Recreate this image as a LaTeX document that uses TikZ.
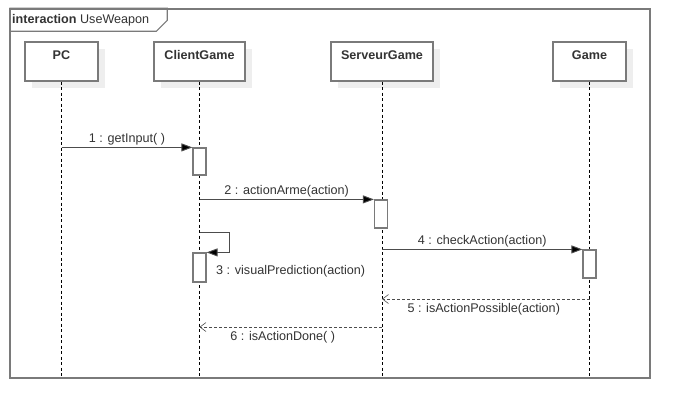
\documentclass[tikz,border=0pt]{standalone}
\usepackage{fontspec}
\setmainfont{Liberation Sans}
\usetikzlibrary{arrows.meta,shadows}
\definecolor{linegray}{HTML}{7A7A7A}
\definecolor{textgray}{HTML}{333333}
\definecolor{shadowgray}{HTML}{EEEEEE}

\begin{document}
\begin{tikzpicture}[x=1pt, y=-1pt, font=\fontsize{12.6}{15}\selectfont, text=textgray,
	head/.style={draw=linegray, line width=1.2pt, fill=white, minimum width=#1, inner ysep=0pt, text height=17pt, text depth=22pt, font=\fontsize{12.6}{15}\selectfont\bfseries,
		drop shadow={shadow xshift=7pt, shadow yshift=-7pt, fill=shadowgray, opacity=1}},
	lifeline/.style={dashed, dash pattern=on 3pt off 2.5pt, black, line width=0.8pt},
	activation/.style={draw=linegray, line width=1.2pt, fill=white, minimum width=13pt, minimum height=#1, inner sep=0pt},
	msg/.style={draw=black!70, line width=0.9pt, -{Triangle[length=11pt, width=8pt, fill=black]}},
	reply/.style={draw=black!70, line width=0.9pt, dashed, dash pattern=on 3pt off 2pt, -{Straight Barb[length=6pt, width=9pt, line width=0.6pt]}},
	msglabel/.style={inner sep=1.5pt},
	replylabel/.style={inner sep=4pt}]

	\useasboundingbox (0,0) rectangle (690,418);

	% frame and title tab
	\node[draw=linegray, line width=1.4pt, minimum width=640pt, minimum height=369pt, inner sep=0pt] (frame) at (330,193.5) {};
	\node[anchor=west, inner sep=0pt] (title) at (12,20.5) {\textbf{interaction} UseWeapon};
	\draw[linegray, line width=1.2pt] (frame.north west) -- ++(158,0) -- ++(0,12) -- ++(-11,11) -- ++(-147,0);

	% lifeline heads
	\node[head=73pt] (pc) at (61.5,61.5) {PC};
	\node[head=91pt] (cg) at (199.5,61.5) {ClientGame};
	\node[head=102pt] (sg) at (382,61.5) {ServeurGame};
	\node[head=73pt] (game) at (589.5,61.5) {Game};

	\coordinate (pcEnd) at (61.5,378);
	\coordinate (cgEnd) at (199.5,378);
	\coordinate (sgEnd) at (382,378);
	\coordinate (gameEnd) at (589.5,378);

	\draw[lifeline] (pc.south) -- (pcEnd);
	\draw[lifeline] (cg.south) -- (cgEnd);
	\draw[lifeline] (sg.south) -- (sgEnd);
	\draw[lifeline] (game.south) -- (gameEnd);

	% activations
	\node[activation=27pt] (a1) at (199.5,161.5) {};
	\node[activation=28pt] (a2) at (381,214) {};
	\node[activation=29pt] (a3) at (199.5,267.5) {};
	\node[activation=28pt] (a4) at (589.5,264) {};

	\coordinate (r5) at (589.5,299);
	\coordinate (r6) at (382,327);

	% messages
	\draw[msg] (pc |- a1.north west) -- node[msglabel, above] {1 : getInput( )} (a1.north west);
	\draw[msg] (cg |- a2.north west) -- node[msglabel, above] {2 : actionArme(action)} (a2.north west);
	\draw[msg] (a3.north -| cg) ++(0,-20) -- ++(30,0) |- (a3.north east);
	\node[anchor=west, inner sep=0pt] (m3) at (216,271) {3 : visualPrediction(action)};
	\draw[msg] (sg |- a4.north west) -- node[msglabel, above] {4 : checkAction(action)} (a4.north west);
	\draw[reply] (r5) -- node[replylabel, below, xshift=-2pt] {5 : isActionPossible(action)} (sg |- r5);
	\draw[reply] (r6) -- node[replylabel, below, xshift=-8pt] {6 : isActionDone( )} (cg |- r6);
\end{tikzpicture}
\end{document}
